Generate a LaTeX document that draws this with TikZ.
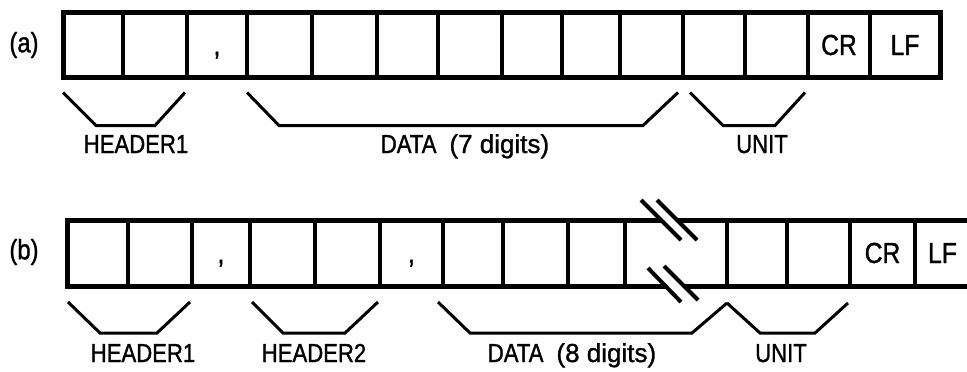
\documentclass[tikz,border=0pt]{standalone}
\usepackage{fontspec}
\setmainfont{Liberation Sans}[FakeStretch=0.85, FakeBold=1.2]
\newfontfamily\plainwide{Liberation Sans}[FakeBold=1.2]
\usetikzlibrary{positioning}

\begin{document}
\begin{tikzpicture}[x=1pt, y=-1pt,
    cell/.style={draw, line width=4pt, inner sep=0pt, outer sep=0pt, minimum height=65pt,
                 text height=20pt, text depth=0pt, font=\fontsize{29}{30}\selectfont},
    frame/.style={line width=5pt, line join=miter},
    grp/.style={line width=3pt, line join=miter},
    cut/.style={line width=4pt},
    lbl/.style={font=\fontsize{26}{30}\selectfont, inner sep=0pt, anchor=base}
  ]
  \clip (0,0) rectangle (967,372);

  % (a) one header, 7 digits
  \node[font=\fontsize{28}{30}\selectfont] (tagA) at (24,45) {(a)};
  \foreach \l/\r/\t [count=\i] in {63/123/{}, 123/187/{}, 187/247/{,}, 247/312/{}, 312/377/{},
      377/438/{}, 438/502/{}, 502/562/{}, 562/620/{}, 620/683/{}, 683/745/{}, 745/808/{},
      808/870/CR, 870/940/LF}
    \node[cell, minimum width={(\r-\l)*1pt}] (a\i) at ({(\l+\r)/2},45) {\t};
  \draw[frame] (a1.north west) rectangle (a14.south east);

  \draw[grp] ([yshift=-15pt]a1.south west) -- ++(33,33)
    -- ([xshift=-32pt,yshift=-48pt]a2.south east) -- ([xshift=-2pt,yshift=-15pt]a2.south east);
  \draw[grp] ([yshift=-15pt]a4.south west) -- ++(32,33)
    -- ([xshift=-40pt,yshift=-48pt]a10.south east) -- ([xshift=-5pt,yshift=-15pt]a10.south east);
  \draw[grp] ([xshift=7pt,yshift=-15pt]a11.south west) -- ++(33,33)
    -- ([xshift=-33pt,yshift=-48pt]a12.south east) -- ([xshift=-3pt,yshift=-15pt]a12.south east);

  \node[lbl] (hdrA) at (136,153) {HEADER1};
  \node[lbl] (dataA) at (465,153) {DATA\hspace{0.5em}{\plainwide(7 digits)}};
  \node[lbl] (unitA) at (762,153) {UNIT};

  % (b) two headers, 8 digits
  \node[font=\fontsize{28}{30}\selectfont] (tagB) at (24,252) {(b)};
  \foreach \l/\r/\t [count=\i] in {67/128/{}, 128/192/{}, 192/250/{,}, 250/315/{}, 315/380/{},
      380/443/{,}, 443/503/{}, 503/568/{}, 568/625/{}, 625/727/{}, 727/787/{}, 787/850/{},
      850/915/CR, 915/970/LF}
    \node[cell, minimum width={(\r-\l)*1pt}, minimum height=66pt] (b\i) at ({(\l+\r)/2},253) {\t};
  \draw[frame] (b14.north east) -- (b1.north west) -- (b1.south west) -- (b14.south east);

  % break in the data field
  \fill[white] (641,200) -- (657,200) -- (697,240) -- (681,240) -- cycle;
  \draw[cut] (641,200) -- (681,240);
  \draw[cut] (657,200) -- (697,240);
  \fill[white] (648,268) -- (664,266) -- (698,300) -- (681,302) -- cycle;
  \draw[cut] (648,268) -- (681,302);
  \draw[cut] (664,266) -- (698,300);

  \draw[grp] ([xshift=1pt,yshift=-16pt]b1.south west) -- ++(32,31)
    -- ([xshift=-35pt,yshift=-47pt]b2.south east) -- ([xshift=-2pt,yshift=-16pt]b2.south east);
  \draw[grp] ([xshift=2pt,yshift=-16pt]b4.south west) -- ++(31,31)
    -- ([xshift=-35pt,yshift=-47pt]b5.south east) -- ([xshift=-2pt,yshift=-16pt]b5.south east);
  \draw[grp] ([xshift=-5pt,yshift=-16pt]b7.south west) -- ++(32,31)
    -- ([xshift=-35pt,yshift=-47pt]b11.south west) -- ([yshift=-17pt]b11.south west);
  \draw[grp] ([yshift=-17pt]b11.south west) -- ([xshift=33pt,yshift=-47pt]b11.south west)
    -- ([xshift=-35pt,yshift=-47pt]b12.south east) -- ([xshift=-2pt,yshift=-17pt]b12.south east);

  \node[lbl] (hdrB1) at (143,362) {HEADER1};
  \node[lbl] (hdrB2) at (314,362) {HEADER2};
  \node[lbl] (dataB) at (572,362) {DATA\hspace{0.5em}{\plainwide(8 digits)}};
  \node[lbl] (unitB) at (781,362) {UNIT};
\end{tikzpicture}
\end{document}
